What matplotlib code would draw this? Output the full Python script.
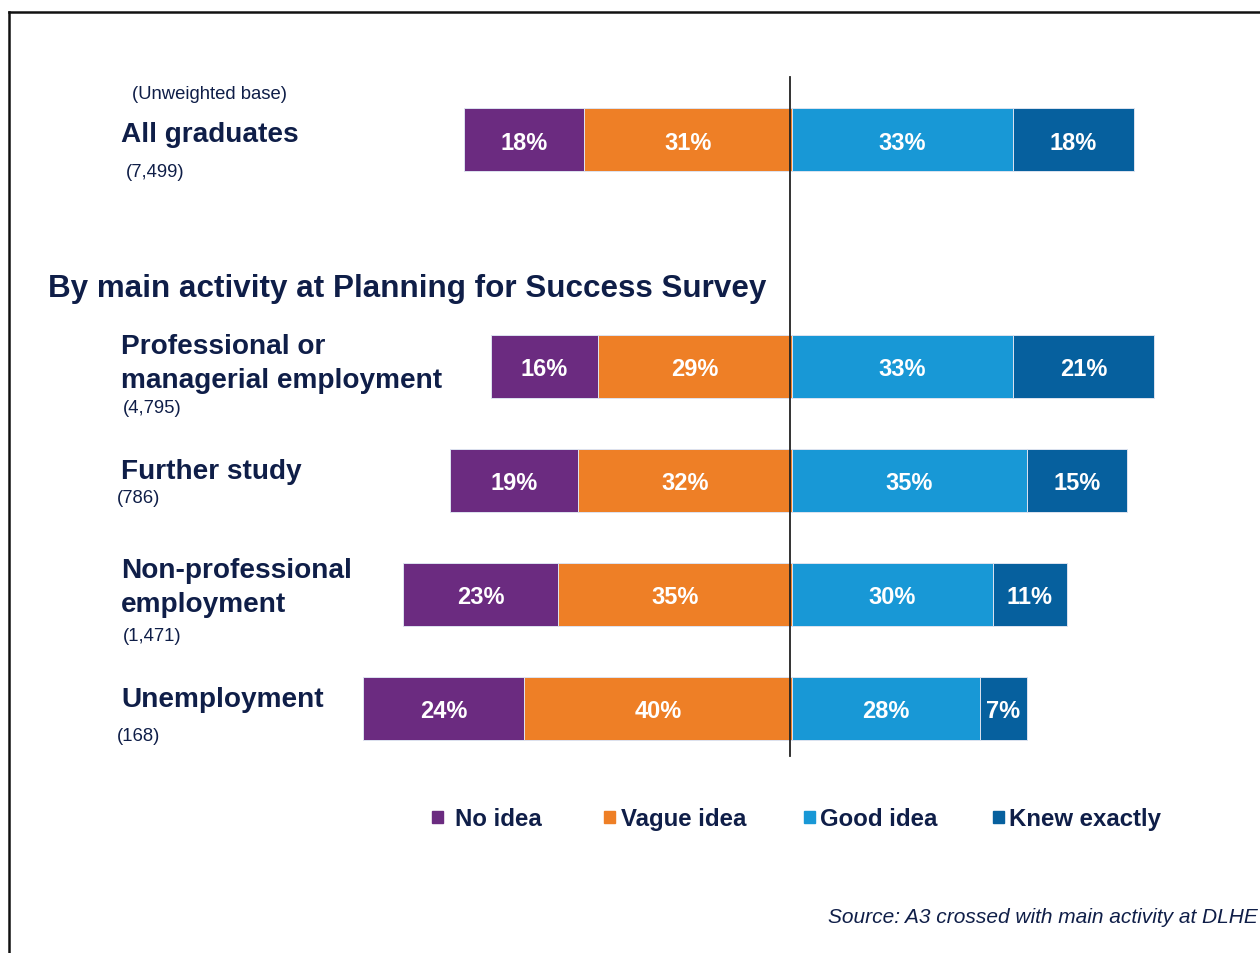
import matplotlib
matplotlib.use("Agg")
import matplotlib.pyplot as plt
from matplotlib.lines import Line2D
from matplotlib.patches import Rectangle

plt.rcParams["font.family"] = ["Liberation Sans", "DejaVu Sans"]

# ---- data -------------------------------------------------------------
groups = ["All graduates", "Professional or\nmanagerial employment", "Further study",
          "Non-professional\nemployment", "Unemployment"]
bases = ["(7,499)", "(4,795)", "(786)", "(1,471)", "(168)"]
no_idea = [18, 16, 19, 23, 24]
vague_idea = [31, 29, 32, 35, 40]
good_idea = [33, 33, 35, 30, 28]
knew_exactly = [18, 21, 15, 11, 7]
series_names = ["No idea", "Vague idea", "Good idea", "Knew exactly"]
colors = ["#6B2B80", "#EE7F26", "#1898D6", "#06609E"]

TEXT = "#0F1E48"
W, H = 1260, 954

fig = plt.figure(figsize=(W / 100, H / 100), dpi=100)
ax = fig.add_axes([0, 0, 1, 1])
# x axis in percent (zero line near the right third), y axis in pixel rows from top
zero_px, px_per_pct = 792, 6.7
ax.set_xlim(-zero_px / px_per_pct, (W - zero_px) / px_per_pct)
ax.set_ylim(H, 0)
ax.axis("off")


def fx(x):
    return x / W


def fy(y):
    return 1 - y / H


# row centres (pixel rows) and bar thickness
rows = [140.5, 367.5, 481.5, 595.5, 709.5]
bar_h = 63

# negative side: vague idea next to zero, no idea further out
left_vague = [-v for v in vague_idea]
left_no = [-(n + v) for n, v in zip(no_idea, vague_idea)]
left_good = [0] * len(good_idea)
left_knew = list(good_idea)

stack = [
    (no_idea, left_no),
    (vague_idea, left_vague),
    (good_idea, left_good),
    (knew_exactly, left_knew),
]

for (vals, lefts), col in zip(stack, colors):
    ax.barh(rows, vals, left=lefts, height=bar_h, color=col,
            edgecolor="#dde3f0", linewidth=0.7, zorder=2)
    for y, v, l in zip(rows, vals, lefts):
        ax.text(l + v / 2, y + 9, f"{v}%", ha="center", va="baseline",
                color="white", fontsize=17, fontweight="bold", zorder=4)

# zero line
ax.plot([-0.3, -0.3], [78, 757], color="#222222", lw=1.3, zorder=3)

# ---- left-hand labels ---------------------------------------------------
fig.text(fx(132), fy(99), "(Unweighted base)", fontsize=13.3, color=TEXT,
         ha="left", va="baseline")
fig.text(fx(48), fy(297), "By main activity at Planning for Success Survey",
         fontsize=22.6, fontweight="bold", color=TEXT, ha="left", va="baseline")

label_pos = [
    [(121, 142)],
    [(121, 354), (121, 388)],
    [(121, 479)],
    [(121, 578), (121, 612)],
    [(121, 707)],
]
base_pos = [(126, 177), (123, 413), (117, 503), (123, 641), (117, 741)]

for name, lines_pos, base, bpos in zip(groups, label_pos, bases, base_pos):
    for line, (x, y) in zip(name.split("\n"), lines_pos):
        fig.text(fx(x), fy(y), line, fontsize=20.2, fontweight="bold", color=TEXT,
                 ha="left", va="baseline")
    fig.text(fx(bpos[0]), fy(bpos[1]), base, fontsize=13.3, color=TEXT,
             ha="left", va="baseline")

# ---- legend -------------------------------------------------------------
leg_sq = [432, 604, 804, 993]
leg_txt = [455, 621, 820, 1009]
for name, col, sx, tx in zip(series_names, colors, leg_sq, leg_txt):
    fig.patches.append(Rectangle((fx(sx), fy(824)), 11 / W, 12 / H,
                                 transform=fig.transFigure, color=col))
    fig.text(fx(tx), fy(826), name, fontsize=17.3, fontweight="bold",
             color=TEXT, ha="left", va="baseline")

fig.text(fx(1258), fy(923), "Source: A3 crossed with main activity at DLHE",
         fontsize=15.05, style="italic", color=TEXT, ha="right", va="baseline")

# ---- outer frame --------------------------------------------------------
fig.lines.append(Line2D([fx(9), fx(W + 5)], [fy(13), fy(13)],
                        transform=fig.transFigure, color="#111111", lw=1.8))
fig.lines.append(Line2D([fx(9), fx(9)], [fy(13), fy(H + 5)],
                        transform=fig.transFigure, color="#111111", lw=1.8))

fig.savefig("out.png", dpi=100, facecolor="white")
